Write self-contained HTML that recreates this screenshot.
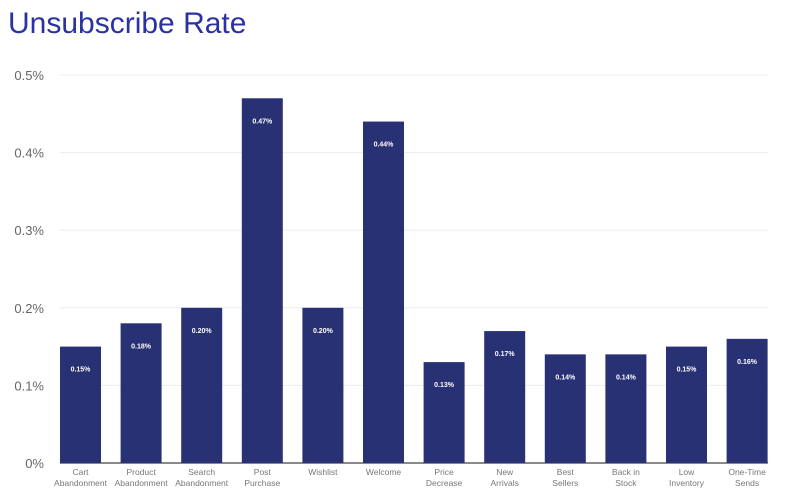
<!DOCTYPE html>
<html><head><meta charset="utf-8"><style>
body{margin:0;background:#fff;width:785px;height:497px;overflow:hidden;font-family:"Liberation Sans",sans-serif}
</style></head><body>
<svg width="785" height="497">
<text x="8" y="33" font-size="30" fill="#2b31a3">Unsubscribe Rate</text>
<g id="grid"></g><g id="bars"></g><g id="labels"></g>
</svg>
<script>
const categories=[["Cart","Abandonment"],["Product","Abandonment"],["Search","Abandonment"],["Post","Purchase"],["Wishlist",""],["Welcome",""],["Price","Decrease"],["New","Arrivals"],["Best","Sellers"],["Back in","Stock"],["Low","Inventory"],["One-Time","Sends"]];
const values=[0.15,0.18,0.20,0.47,0.20,0.44,0.13,0.17,0.14,0.14,0.15,0.16];
const ticks=[0,0.1,0.2,0.3,0.4,0.5];
const tickLabels=["0%","0.1%","0.2%","0.3%","0.4%","0.5%"];
const NS="http://www.w3.org/2000/svg";
const y=v=>463-v*776;
const x=i=>60+i*60.6;
const bw=41;
function mk(t,a,p){const e=document.createElementNS(NS,t);for(const k in a)e.setAttribute(k,a[k]);p.appendChild(e);return e;}
const g=document.getElementById('grid'),b=document.getElementById('bars'),l=document.getElementById('labels');
ticks.forEach((t,i)=>{
 if(t>0){const ln=mk('line',{x1:60,x2:768,y1:y(t),y2:y(t),stroke:'#ececec','stroke-width':1},g);
 
 }
 const tx=mk('text',{x:44,y:y(t)+5,'text-anchor':'end','font-size':13,fill:'#666'},g);
 tx.textContent=tickLabels[i];
 
 
});
values.forEach((v,i)=>{
 const r=mk('rect',{x:x(i),y:y(v),width:bw,height:463-y(v),fill:'#283174'},b);
 
 
 const vt=mk('text',{x:x(i)+bw/2,y:y(v)+25,'text-anchor':'middle','font-size':7,'font-weight':'bold',fill:'#fff'},l);
 vt.textContent=v.toFixed(2)+'%';
 
 
 categories[i].forEach((c,j)=>{
  const ct=mk('text',{x:x(i)+bw/2,y:475+j*11,'text-anchor':'middle','font-size':8.5,fill:'#777'},l);
  ct.textContent=c;
  
  
 });
});
const ax=mk('line',{x1:60,x2:768,y1:463,y2:463,stroke:'#444','stroke-width':1.2},g);


</script>
</body></html>
